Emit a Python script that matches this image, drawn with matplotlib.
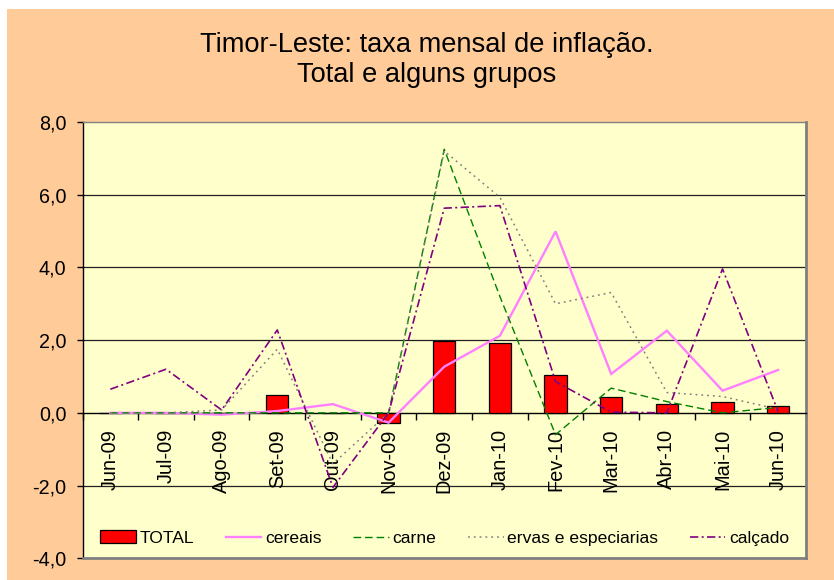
import matplotlib
matplotlib.use("Agg")
import matplotlib.pyplot as plt
from matplotlib.patches import Rectangle, Patch
from matplotlib.lines import Line2D
import numpy as np

plt.rcParams['font.family'] = ['Liberation Sans', 'DejaVu Sans']

categories = ["Jun-09", "Jul-09", "Ago-09", "Set-09", "Out-09", "Nov-09", "Dez-09",
              "Jan-10", "Fev-10", "Mar-10", "Abr-10", "Mai-10", "Jun-10"]
total = [0.0, 0.0, 0.0, 0.48, 0.0, -0.28, 1.98, 1.93, 1.05, 0.45, 0.25, 0.31, 0.19]
cereais = [0.0, 0.0, -0.05, 0.05, 0.24, -0.27, 1.27, 2.12, 4.99, 1.07, 2.26, 0.61, 1.18]
carne = [0.0, 0.0, 0.0, 0.0, 0.0, 0.0, 7.25, 3.2, -0.6, 0.68, 0.31, 0.0, 0.15]
ervas = [0.0, 0.0, 0.08, 1.75, -1.4, 0.0, 7.2, 5.93, 3.0, 3.31, 0.56, 0.45, 0.1]
calcado = [0.65, 1.2, 0.08, 2.28, -2.05, 0.0, 5.63, 5.70, 0.86, 0.02, 0.0, 3.96, 0.03]
yticks = [-4, -2, 0, 2, 4, 6, 8]
ytick_labels = ["-4,0", "-2,0", "0,0", "2,0", "4,0", "6,0", "8,0"]
title_lines = ["Timor-Leste: taxa mensal de inflação.", "Total e alguns grupos"]

W, H = 834, 580
fig = plt.figure(figsize=(W / 100, H / 100), dpi=100, facecolor="white")
fig.patches.append(Rectangle((7 / W, 0), 1, (H - 9) / H, transform=fig.transFigure,
                             facecolor="#FFCC99", edgecolor="none", zorder=-10))

left, right, top, bottom = 82.5, 806, 122, 558.3
ax = fig.add_axes([left / W, 1 - bottom / H, (right - left) / W, (bottom - top) / H])
ax.set_facecolor("#FFFFCC")

x = np.arange(len(categories))
ax.set_xlim(-0.5, len(categories) - 0.5)
ax.set_ylim(-4, 8)

for g in [-2, 2, 4, 6]:
    ax.axhline(g, color="#202020", lw=0.9, zorder=1)
ax.axhline(-4, color="#808080", lw=2.0, zorder=5, clip_on=False)

ax.bar(x, total, width=0.4, color="#FF0000", edgecolor="black", lw=0.9, zorder=3)
ax.plot(x, cereais, color="#FF80FF", lw=1.7, zorder=4, solid_joinstyle="miter")
ax.plot(x, carne, color="#008000", lw=1.0, dashes=(5.5, 2.8), zorder=4)
ax.plot(x, ervas, color="#808080", lw=1.1, dashes=(1.2, 2.6), zorder=4)
ax.plot(x, calcado, color="#800080", lw=1.2, dashes=(5.0, 2.0, 1.2, 2.0), zorder=4)

# spines
ax.spines["bottom"].set_position(("data", 0))
ax.spines["bottom"].set_color("black")
ax.spines["bottom"].set_linewidth(1.0)
ax.spines["left"].set_color("black")
ax.spines["left"].set_linewidth(1.0)
ax.spines["top"].set_color("#808080")
ax.spines["top"].set_linewidth(1.0)
ax.spines["right"].set_color("#808080")
ax.spines["right"].set_linewidth(2.0)

# x ticks: boundaries as major ticks, labels on minor ticks
ax.set_xticks(np.arange(-0.5, len(categories), 1.0))
ax.set_xticklabels([])
ax.set_xticks(x, minor=True)
ax.set_xticklabels(categories, minor=True, rotation=90, fontsize=14.4)
ax.tick_params(axis="x", which="major", direction="out", length=4.8, width=1.0, color="black")
ax.tick_params(axis="x", which="minor", length=0, pad=11.5)

ax.set_yticks(yticks)
ax.set_yticklabels(ytick_labels, fontsize=14.2)
ax.tick_params(axis="y", direction="out", length=4.0, width=1.0, pad=7.5)

handles = [
    Patch(facecolor="#FF0000", edgecolor="black", lw=0.9),
    Line2D([], [], color="#FF80FF", lw=1.7),
    Line2D([], [], color="#008000", lw=1.0, dashes=(5.5, 2.8)),
    Line2D([], [], color="#808080", lw=1.1, dashes=(1.2, 2.6)),
    Line2D([], [], color="#800080", lw=1.2, dashes=(5.0, 2.0, 1.2, 2.0)),
]
labels = ["TOTAL", "cereais", "carne", "ervas e especiarias", "calçado"]
ax.legend(handles, labels, loc="center", bbox_to_anchor=(0.5005, 0.0465), ncol=5,
          frameon=False, fontsize=12.6, handlelength=2.05, handletextpad=0.2,
          columnspacing=1.8, borderpad=0, borderaxespad=0)

fig.text(426.7 / W, 1 - 52 / H, title_lines[0], ha="center", va="baseline", fontsize=19.6)
fig.text(426.5 / W, 1 - 82 / H, title_lines[1], ha="center", va="baseline", fontsize=19.6)

fig.savefig("out.png", dpi=100, facecolor="white")
